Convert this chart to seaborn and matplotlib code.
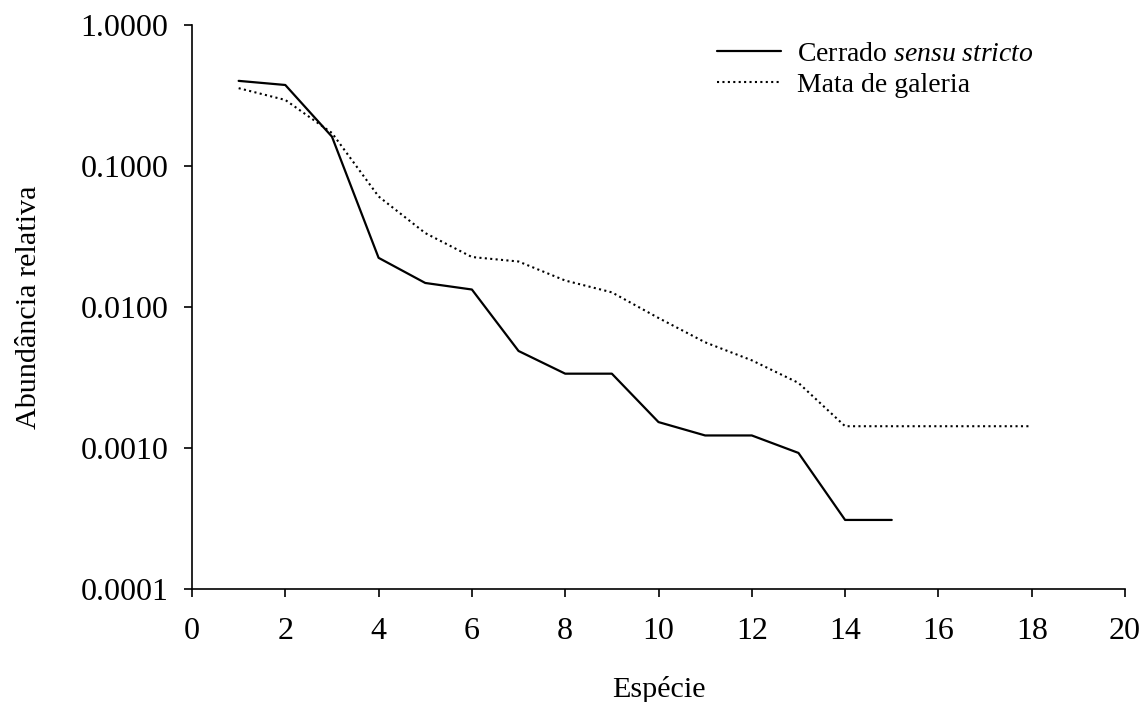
import matplotlib
matplotlib.use("Agg")
import matplotlib.pyplot as plt
import matplotlib.ticker as mticker
import numpy as np
import pandas as pd
import seaborn as sns

# Rank-abundance data (relative abundance per species rank)
especie_cerrado = [1, 2, 3, 4, 5, 6, 7, 8, 9, 10, 11, 12, 13, 14, 15]
abund_cerrado = [0.400, 0.374, 0.161, 0.0223, 0.0148, 0.0133, 0.00488, 0.00337,
                 0.00337, 0.00153, 0.00123, 0.00123, 0.000925, 0.00031, 0.00031]

especie_mata = [1, 2, 3, 4, 5, 6, 7, 8, 9, 10, 11, 12, 13, 14, 15, 16, 17, 18]
abund_mata = [0.355, 0.293, 0.171, 0.0607, 0.0334, 0.0226, 0.0210, 0.0154, 0.0127,
              0.00836, 0.00562, 0.00419, 0.0029, 0.00143, 0.00143, 0.00143,
              0.00143, 0.00143]

y_ticks = [0.0001, 0.001, 0.01, 0.1, 1.0]
x_ticks = list(range(0, 21, 2))

sns.set_theme(style="ticks")
plt.rcParams["font.family"] = ["Liberation Serif", "DejaVu Serif"]
plt.rcParams["mathtext.fontset"] = "custom"
plt.rcParams["mathtext.it"] = "Liberation Serif:italic"
plt.rcParams["mathtext.rm"] = "Liberation Serif"

W, H = 1148, 702
fig = plt.figure(figsize=(W / 100, H / 100), dpi=100)
ax = fig.add_axes([192 / W, 1 - 589.3 / H, (1125 - 192) / W, (589.3 - 24.7) / H])

df_c = pd.DataFrame({"Espécie": especie_cerrado, "Abundância": abund_cerrado})
df_m = pd.DataFrame({"Espécie": especie_mata, "Abundância": abund_mata})

sns.lineplot(data=df_c, x="Espécie", y="Abundância", ax=ax, color="black",
             linewidth=1.6, label="Cerrado $\\it{sensu\\ stricto}$")
sns.lineplot(data=df_m, x="Espécie", y="Abundância", ax=ax, color="black",
             linewidth=1.5, linestyle=(0, (1, 1.6)), label="Mata de galeria")

ax.set_yscale("log")
ax.set_ylim(0.0001, 1.0)
ax.set_xlim(0, 20)
ax.set_xticks(x_ticks)
ax.set_yticks(y_ticks)
ax.yaxis.set_major_formatter(mticker.FuncFormatter(lambda v, p: f"{v:.4f}"))
ax.yaxis.set_minor_locator(mticker.NullLocator())

ax.tick_params(axis="both", which="major", direction="out", length=6, width=1.2,
               labelsize=23, color="black", labelcolor="black")
ax.tick_params(axis="y", pad=11)
ax.tick_params(axis="x", pad=14)
for side in ("top", "right"):
    ax.spines[side].set_visible(False)
for side in ("left", "bottom"):
    ax.spines[side].set_color("black")
    ax.spines[side].set_linewidth(1.2)

ax.set_xlabel("Espécie", fontsize=21.7, color="black", labelpad=21.5)
ax.set_ylabel("Abundância relativa", fontsize=21.7, color="black", labelpad=28)

leg = ax.legend(loc="upper left", bbox_to_anchor=(717 / W, 1 - 41.5 / H),
                bbox_transform=fig.transFigure, frameon=False, fontsize=20,
                handlelength=2.3, handletextpad=0.57, labelspacing=0.2,
                borderpad=0, borderaxespad=0)
for t in leg.get_texts():
    t.set_color("black")

fig.savefig("out.png", dpi=100, facecolor="white")
